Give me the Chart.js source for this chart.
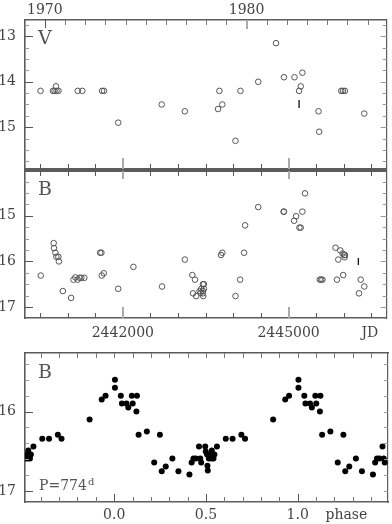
<!DOCTYPE html>
<html>
<head>
<meta charset="utf-8">
<script src="https://cdn.jsdelivr.net/npm/chart.js@4.4.0/dist/chart.umd.min.js"></script>
<style>
  html, body { margin: 0; padding: 0; background: #fff; }
  #wrap { position: relative; width: 392px; height: 524px; }
  #wrap canvas { position: absolute; left: 0; top: 0; width: 392px; height: 524px; }
</style>
</head>
<body>
<div id="wrap">
  <canvas id="cV" width="392" height="524"></canvas>
  <canvas id="cB" width="392" height="524"></canvas>
  <canvas id="cP" width="392" height="524"></canvas>
</div>
<script>
// V light curve (JD, mag)
const jdV = [2440510, 2440735, 2440765, 2440800, 2440835, 2440790, 2441183, 2441267, 2441624, 2441660,
  2441916, 2442703, 2443122, 2443723, 2443748, 2443801, 2444039, 2444129, 2444451, 2444773,
  2444916, 2445107, 2445190, 2445220, 2445250, 2445542, 2445554, 2445953, 2445984, 2446020, 2446370];
const magV = [14.2, 14.2, 14.2, 14.2, 14.2, 14.1, 14.2, 14.2, 14.2, 14.2,
  14.9, 14.5, 14.65, 14.6, 14.2, 14.5, 15.3, 14.2, 14.0, 13.15,
  13.9, 13.9, 14.2, 14.1, 13.8, 14.65, 15.1, 14.2, 14.2, 14.2, 14.7];
const jdVErr = [2445190];
const magVErr = [14.49];

// B light curve (JD, mag)
const jdB = [2440514, 2440748, 2440754, 2440779, 2440797, 2440833, 2440843, 2440914, 2441064, 2441106,
  2441141, 2441182, 2441218, 2441249, 2441302, 2441589, 2441612, 2441619, 2441655, 2441916,
  2442191, 2442710, 2443122, 2443258, 2443306, 2443270, 2443329, 2443390, 2443408, 2443419,
  2443449, 2443449, 2443449, 2443455, 2443467, 2443467, 2443777, 2443801, 2444039, 2444123,
  2444195, 2444213, 2444451, 2444910, 2444916, 2445100, 2445136, 2445196, 2445220, 2445250,
  2445297, 2445565, 2445590, 2445613, 2445850, 2445876, 2445900, 2445936, 2445977, 2445989,
  2446007, 2446014, 2446020, 2446275, 2446306, 2446370];
const magB = [16.31, 15.60, 15.71, 15.81, 15.90, 15.90, 16.00, 16.65, 16.80, 16.40,
  16.35, 16.40, 16.36, 16.36, 16.36, 15.81, 15.81, 16.31, 16.26, 16.60,
  16.12, 16.55, 15.96, 16.30, 16.40, 16.70, 16.76, 16.65, 16.69, 16.60,
  16.50, 16.65, 16.70, 16.76, 16.50, 16.60, 15.86, 15.81, 16.76, 16.40,
  15.81, 15.21, 14.81, 14.91, 14.91, 15.11, 15.01, 15.26, 15.26, 14.91,
  14.51, 16.40, 16.40, 16.40, 15.70, 16.40, 15.96, 15.76, 15.83, 16.30,
  15.86, 15.91, 15.86, 16.70, 16.40, 16.55];
const jdBErr = [2446263];
const magBErr = [16.0];

// phased B curve, P = 774 d (phase 0..1, mag)
const phaseB = [0.004, 0.004, 0.036, 0.042, 0.067, 0.077, 0.096, 0.101, 0.124, 0.121,
  0.133, 0.178, 0.218, 0.249, 0.259, 0.281, 0.317, 0.350, 0.410, 0.422,
  0.432, 0.445, 0.462, 0.469, 0.474, 0.496, 0.499, 0.506, 0.508, 0.510,
  0.516, 0.523, 0.530, 0.532, 0.536, 0.541, 0.546, 0.560, 0.608, 0.645,
  0.693, 0.713, 0.866, 0.932, 0.953];
const magPhase = [15.60, 15.70, 15.80, 15.90, 15.90, 15.95, 15.80, 15.90, 15.80, 16.00,
  16.29, 16.25, 16.64, 16.29, 16.75, 16.69, 16.59, 16.75, 16.79, 16.64,
  16.59, 16.59, 16.44, 16.59, 16.64, 16.44, 16.50, 16.54, 16.68, 16.74,
  16.59, 16.54, 16.59, 16.49, 16.54, 16.59, 16.54, 16.44, 16.34, 16.34,
  16.29, 16.34, 16.10, 15.85, 15.80];

// axis labels
const yearLabels = [1970, 1980];
const jdLabels = [2442000, 2445000];
const vLabels = [13, 14, 15];
const bLabels = [15, 16, 17];
const phMagLabels = [16, 17];
const phaseLabels = [0, 0.5, 1];

// axis ranges
const JD_MIN = 2440229, JD_MAX = 2446776;
const jdToYear = jd => 1970 + (jd - 2440587.5) / 365.25;
const YR_MIN = jdToYear(JD_MIN), YR_MAX = jdToYear(JD_MAX);
const V_MIN = 12.64, V_MAX = 15.92;
const B_MIN = 14.02, B_MAX = 17.24;
const P_MIN = 15.265, P_MAX = 17.135;
const PH_MIN = -0.486, PH_MAX = 1.492;
const JD_TEXT_AT = 2446472;   // where "JD" sits on the axis
const PH_TEXT_AT = 1.265;     // where "phase" sits

const FRAME = '#5c5c5c';
const TXT = '#444';

Chart.defaults.font.family = "'DejaVu Serif', serif";
Chart.defaults.font.size = 14;
Chart.defaults.color = TXT;
Chart.defaults.animation = false;
Chart.defaults.events = [];
Chart.defaults.plugins.legend.display = false;
Chart.defaults.plugins.tooltip.enabled = false;

const range = (a, b, step) => {
  const out = [];
  for (let v = a; v <= b + 1e-9; v += step) out.push(+v.toFixed(4));
  return out;
};
const pts = (xs, ys) => xs.map((x, i) => ({ x: x, y: ys[i] }));

// fold each phase point into the plotted -0.5..1.5 window
const phasePts = [];
phaseB.forEach((p, i) => {
  [p - 1, p, p + 1].forEach(q => {
    if (q >= PH_MIN && q <= PH_MAX) phasePts.push({ x: q, y: magPhase[i] });
  });
});

const size = n => s => { if (s.isHorizontal()) s.height = n; else s.width = n; };

const plainAxis = (pos, min, max, n, bw, extra) => Object.assign({
  type: 'linear', position: pos, min: min, max: max,
  ticks: { display: false },
  grid: { display: false, drawTicks: false },
  border: { color: FRAME, width: bw },
  afterFit: size(n)
}, extra || {});

const labelAxis = (pos, min, max, n, bw, values, pad, fmt, extra) => Object.assign({
  type: 'linear', position: pos, min: min, max: max,
  grid: { display: false, drawTicks: false },
  border: { color: FRAME, width: bw },
  afterFit: size(n),
  afterBuildTicks: s => { s.ticks = values.map(v => ({ value: v })); },
  ticks: { padding: pad, autoSkip: false, maxRotation: 0, minRotation: 0, color: TXT, callback: fmt }
}, extra || {});

// inward tick marks drawn from the chart's own scales
const tickMarks = {
  id: 'tickMarks',
  afterDatasetsDraw(chart, args, opts) {
    const ctx = chart.ctx, a = chart.chartArea;
    ctx.save();
    (opts.sets || []).forEach(s => {
      const scale = chart.scales[s.scale];
      ctx.strokeStyle = s.color;
      ctx.lineWidth = s.width || 1;
      s.values.forEach(v => {
        const p = Math.round(scale.getPixelForValue(v)) + ((s.width || 1) % 2 ? 0.5 : 0);
        ctx.beginPath();
        if (scale.isHorizontal()) {
          const y0 = s.side === 'top' ? a.top : a.bottom;
          const dir = s.side === 'top' ? 1 : -1;
          ctx.moveTo(p, y0);
          ctx.lineTo(p, y0 + dir * s.len);
        } else {
          const x0 = s.side === 'left' ? a.left : a.right;
          const dir = s.side === 'left' ? 1 : -1;
          ctx.moveTo(x0, p);
          ctx.lineTo(x0 + dir * s.len, p);
        }
        ctx.stroke();
      });
    });
    ctx.restore();
  }
};

// panel names and the period note
const panelText = {
  id: 'panelText',
  afterDraw(chart, args, opts) {
    const ctx = chart.ctx;
    ctx.save();
    ctx.textBaseline = 'alphabetic';
    ctx.textAlign = 'left';
    (opts.items || []).forEach(it => {
      ctx.font = it.font;
      ctx.fillStyle = it.color || TXT;
      ctx.fillText(it.text, it.x, it.y);
    });
    ctx.restore();
  }
};

const openCircles = (data) => ({
  data: data, xAxisID: 'x', yAxisID: 'y',
  pointStyle: 'circle', pointRadius: 2.8, pointBorderWidth: 1,
  borderColor: '#555', backgroundColor: 'rgba(0,0,0,0)',
  pointBorderColor: '#555', pointBackgroundColor: 'rgba(0,0,0,0)', showLine: false
});
const errBar = (data, r) => ({
  data: data, xAxisID: 'x', yAxisID: 'y',
  pointStyle: 'line', rotation: 90, pointRotation: 90, pointRadius: r,
  borderColor: '#111', pointBorderColor: '#111', pointBorderWidth: 1.3, showLine: false
});

const vQuarter = range(12.75, 15.75, 0.25);
const bQuarter = range(14.25, 17.0, 0.25);
const pFifth = range(15.4, 17.0, 0.2);
const jdSteps = range(2440500, 2446500, 500);
const years = range(1970, 1986, 1);
const phSteps = range(-0.4, 1.4, 0.1);

// --- V panel
new Chart(document.getElementById('cV'), {
  type: 'scatter',
  data: { datasets: [openCircles(pts(jdV, magV)), errBar(pts(jdVErr, magVErr), 4)] },
  options: {
    responsive: false,
    layout: { padding: 0 },
    scales: {
      x: plainAxis('bottom', JD_MIN, JD_MAX, 524 - 169, 2),
      xt: labelAxis('top', YR_MIN, YR_MAX, 20, 1.6, yearLabels, 1, v => String(v)),
      y: labelAxis('left', V_MIN, V_MAX, 25, 1.6, vLabels, 9, v => String(v), { reverse: true }),
      yr: plainAxis('right', V_MIN, V_MAX, 1, 1.2, { reverse: true })
    },
    plugins: {
      tickMarks: { sets: [
        { scale: 'xt', side: 'top', values: years, len: 5, color: '#777' },
        { scale: 'xt', side: 'top', values: [1970], len: 8, color: '#555' },
        { scale: 'xt', side: 'top', values: [1980], len: 9, color: '#aaa', width: 2 },
        { scale: 'x', side: 'bottom', values: jdSteps, len: 5, color: '#555' },
        { scale: 'x', side: 'bottom', values: jdLabels, len: 11, color: '#aaa', width: 2 },
        { scale: 'y', side: 'left', values: vQuarter, len: 4, color: '#999' },
        { scale: 'y', side: 'left', values: vLabels, len: 8, color: '#555' },
        { scale: 'yr', side: 'right', values: vQuarter, len: 4, color: '#999' },
        { scale: 'yr', side: 'right', values: vLabels, len: 6, color: '#999' }
      ] },
      panelText: { items: [{ text: 'V', x: 38, y: 44, font: "19px 'DejaVu Serif'", color: '#555' }] }
    }
  },
  plugins: [tickMarks, panelText]
});

// --- B panel
new Chart(document.getElementById('cB'), {
  type: 'scatter',
  data: { datasets: [openCircles(pts(jdB, magB)), errBar(pts(jdBErr, magBErr), 3.5)] },
  options: {
    responsive: false,
    layout: { padding: 0 },
    scales: {
      xt: plainAxis('top', JD_MIN, JD_MAX, 171, 2),
      x: labelAxis('bottom', JD_MIN, JD_MAX, 524 - 318, 1.6, jdLabels.concat([JD_TEXT_AT]), 7,
        v => v === JD_TEXT_AT ? 'JD' : String(v)),
      y: labelAxis('left', B_MIN, B_MAX, 25, 1.6, bLabels, 9, v => String(v), { reverse: true }),
      yr: plainAxis('right', B_MIN, B_MAX, 1, 1.2, { reverse: true })
    },
    plugins: {
      tickMarks: { sets: [
        { scale: 'xt', side: 'top', values: jdSteps, len: 5, color: '#555' },
        { scale: 'xt', side: 'top', values: jdLabels, len: 8, color: '#aaa', width: 2 },
        { scale: 'x', side: 'bottom', values: jdSteps, len: 5, color: '#555' },
        { scale: 'x', side: 'bottom', values: jdLabels, len: 11, color: '#aaa', width: 2 },
        { scale: 'y', side: 'left', values: bQuarter, len: 4, color: '#999' },
        { scale: 'y', side: 'left', values: bLabels, len: 8, color: '#555' },
        { scale: 'yr', side: 'right', values: bQuarter, len: 4, color: '#999' },
        { scale: 'yr', side: 'right', values: bLabels, len: 6, color: '#999' }
      ] },
      panelText: { items: [{ text: 'B', x: 38, y: 195, font: "19px 'DejaVu Serif'", color: '#555' }] }
    }
  },
  plugins: [tickMarks, panelText]
});

// --- phased B panel
new Chart(document.getElementById('cP'), {
  type: 'scatter',
  data: { datasets: [{
    data: phasePts, xAxisID: 'x', yAxisID: 'y',
    pointStyle: 'circle', pointRadius: 3, pointBorderWidth: 0,
    borderColor: '#000', backgroundColor: '#000', pointBackgroundColor: '#000', showLine: false
  }] },
  options: {
    responsive: false,
    layout: { padding: 0 },
    scales: {
      xt: plainAxis('top', PH_MIN, PH_MAX, 353, 1.6),
      x: labelAxis('bottom', PH_MIN, PH_MAX, 524 - 502, 1.6, phaseLabels.concat([PH_TEXT_AT]), 5,
        v => v === PH_TEXT_AT ? 'phase' : Number(v).toFixed(1)),
      y: labelAxis('left', P_MIN, P_MAX, 25, 1.6, phMagLabels, 9, v => String(v), { reverse: true }),
      yr: plainAxis('right', P_MIN, P_MAX, 1, 1.2, { reverse: true })
    },
    plugins: {
      tickMarks: { sets: [
        { scale: 'xt', side: 'top', values: phSteps, len: 5, color: '#777' },
        { scale: 'x', side: 'bottom', values: phSteps, len: 5, color: '#777' },
        { scale: 'x', side: 'bottom', values: phaseLabels, len: 8, color: '#555' },
        { scale: 'y', side: 'left', values: pFifth, len: 4, color: '#999' },
        { scale: 'y', side: 'left', values: phMagLabels, len: 8, color: '#555' },
        { scale: 'yr', side: 'right', values: pFifth, len: 4, color: '#999' }
      ] },
      panelText: { items: [
        { text: 'B', x: 38, y: 378, font: "19px 'DejaVu Serif'", color: '#555' },
        { text: 'P=774', x: 39, y: 490, font: "14px 'DejaVu Serif'", color: '#555' },
        { text: 'd', x: 88, y: 485, font: "10px 'DejaVu Serif'", color: '#555' }
      ] }
    }
  },
  plugins: [tickMarks, panelText]
});
</script>
</body>
</html>
